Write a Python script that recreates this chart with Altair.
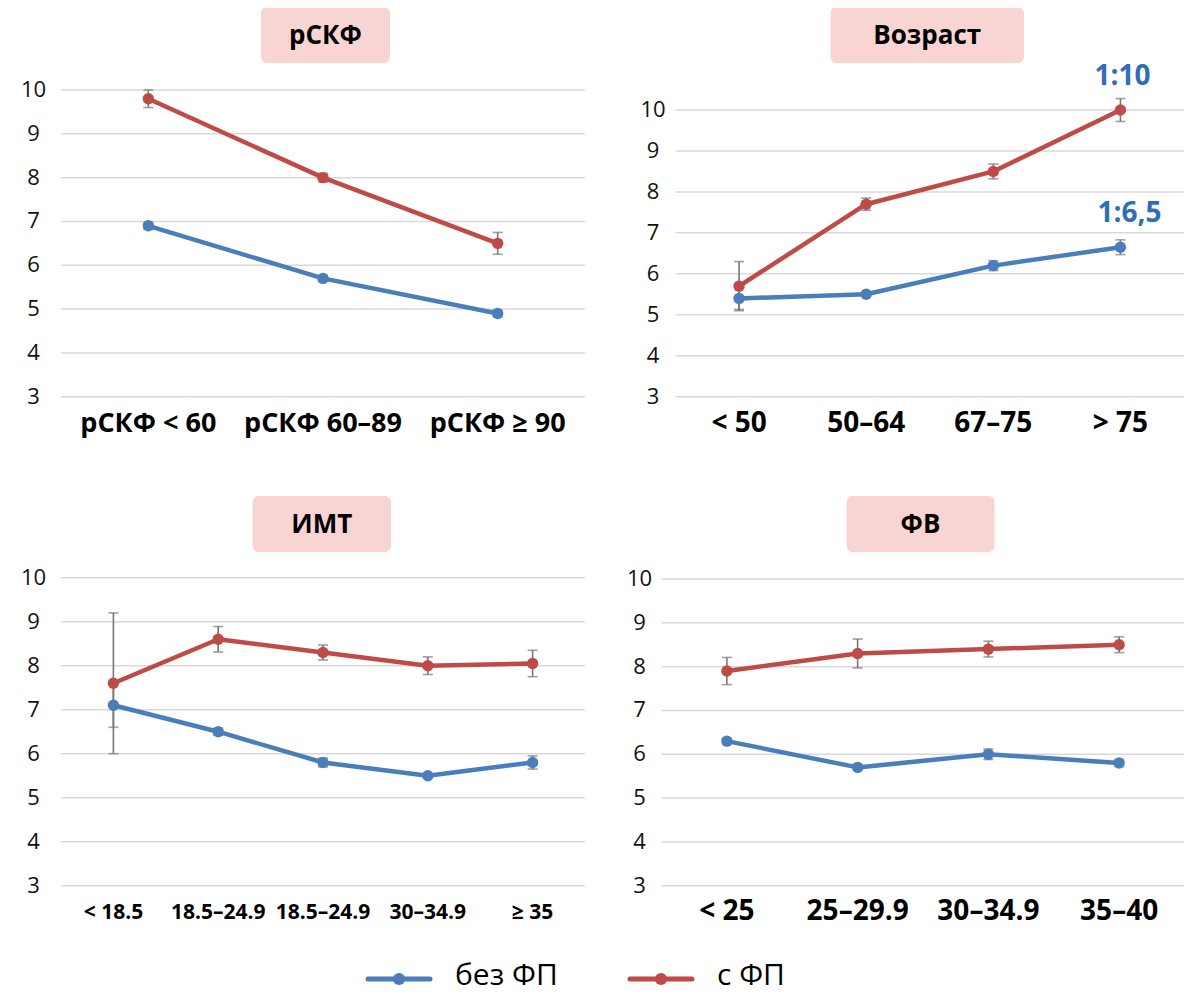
import altair as alt
import pandas as pd

# ---------------- data ----------------
series_names = ["без ФП", "с ФП"]
y_ticks = [3, 4, 5, 6, 7, 8, 9, 10]

egfr_title = "рСКФ"
egfr_cats = ["рСКФ < 60", "рСКФ 60–89", "рСКФ ≥ 90"]
egfr_blue = [6.9, 5.7, 4.9]
egfr_blue_err = [0.08, 0.07, 0.08]
egfr_red = [9.8, 8.0, 6.5]
egfr_red_err = [0.2, 0.1, 0.25]

age_title = "Возраст"
age_cats = ["< 50", "50–64", "67–75", "> 75"]
age_blue = [5.4, 5.5, 6.2, 6.65]
age_blue_err = [0.27, 0.05, 0.12, 0.18]
age_red = [5.7, 7.7, 8.5, 10.0]
age_red_err = [0.6, 0.15, 0.18, 0.28]
age_notes = ["1:10", "1:6,5"]

bmi_title = "ИМТ"
bmi_cats = ["< 18.5", "18.5–24.9", "18.5–24.9", "30–34.9", "≥ 35"]
bmi_blue = [7.1, 6.5, 5.8, 5.5, 5.8]
bmi_blue_err = [0.5, 0.08, 0.1, 0.05, 0.15]
bmi_red = [7.6, 8.6, 8.3, 8.0, 8.05]
bmi_red_err = [1.6, 0.29, 0.17, 0.2, 0.3]

ef_title = "ФВ"
ef_cats = ["< 25", "25–29.9", "30–34.9", "35–40"]
ef_blue = [6.3, 5.7, 6.0, 5.8]
ef_blue_err = [0.06, 0.05, 0.12, 0.08]
ef_red = [7.9, 8.3, 8.4, 8.5]
ef_red_err = [0.31, 0.33, 0.18, 0.18]

# ---------------- style ----------------
BLUE = "#4A7EBB"
RED = "#BE4B48"
GRID = "#D9D9D9"
ERR = "#777777"
PINK = "#F8D5D3"
NOTE = "#2F6EB5"
FONT = "Open Sans"

color = alt.Color("series:N",
                  scale=alt.Scale(domain=series_names, range=[BLUE, RED]),
                  legend=None)


def panel(title, cats, blue, blue_err, red, red_err, lay, notes=None):
    rows = []
    for s, vals, errs in ((series_names[0], blue, blue_err),
                          (series_names[1], red, red_err)):
        for i, (v, e) in enumerate(zip(vals, errs)):
            rows.append(dict(i=i, series=s, v=v, lo=v - e, hi=v + e))
    df = pd.DataFrame(rows)
    n = len(cats)
    xs = alt.Scale(type="point", domain=list(range(n)), range=lay["xr"], padding=0.5)
    ys = alt.Scale(domain=[3, 10], range=lay["yr"], nice=False, zero=False)
    X = alt.X("i:O", scale=xs, axis=None)
    Y = alt.Y("v:Q", scale=ys, axis=None)

    ticks_df = pd.DataFrame({"v": y_ticks})
    grid = alt.Chart(ticks_df).mark_rule(color=GRID, strokeWidth=1.5).encode(
        y=Y, x=alt.value(lay["xr"][0]), x2=alt.value(lay["xr"][1]))
    ylab = alt.Chart(ticks_df).mark_text(
        font=FONT, fontSize=22, align="center", baseline="middle", color="#111"
    ).encode(y=Y, x=alt.value(lay["ylab_x"]), text="v:Q")

    cat_df = pd.DataFrame({"i": list(range(n)), "label": cats})
    xlab = alt.Chart(cat_df).mark_text(
        font=FONT, fontSize=lay["xfs"], fontWeight="bold", align="center",
        baseline="middle", color="#000"
    ).encode(x=X, y=alt.value(lay["xlab_y"]), text="label:N")

    base = alt.Chart(df)
    err = base.mark_rule(color=ERR, strokeWidth=1.6).encode(
        x=X, y=alt.Y("lo:Q", scale=ys, axis=None), y2="hi:Q")
    cap_lo = base.mark_tick(color=ERR, size=10, thickness=1.6).encode(
        x=X, y=alt.Y("lo:Q", scale=ys, axis=None))
    cap_hi = base.mark_tick(color=ERR, size=10, thickness=1.6).encode(
        x=X, y=alt.Y("hi:Q", scale=ys, axis=None))
    line = base.mark_line(strokeWidth=4.5, strokeJoin="round", strokeCap="round").encode(
        x=X, y=Y, color=color, detail="series:N")
    pts = base.mark_circle(size=130, opacity=1).encode(x=X, y=Y, color=color)

    b = lay["box"]
    tdf = pd.DataFrame({"t": [title]})
    box = alt.Chart(tdf).mark_rect(color=PINK, cornerRadius=6).encode(
        x=alt.value(b[0]), x2=alt.value(b[1]), y=alt.value(b[2]), y2=alt.value(b[3]))
    ttl = alt.Chart(tdf).mark_text(
        font=FONT, fontSize=26, fontWeight="bold", align="center",
        baseline="middle", color="#000"
    ).encode(x=alt.value((b[0] + b[1]) / 2), y=alt.value((b[2] + b[3]) / 2 + 1), text="t:N")

    layers = [grid, ylab, xlab, line, err, cap_lo, cap_hi, pts, box, ttl]

    if notes:
        last = n - 1
        ndf1 = pd.DataFrame({"i": [last], "v": [red[last]], "t": [notes[0]]})
        ndf2 = pd.DataFrame({"i": [last], "v": [blue[last]], "t": [notes[1]]})
        for nd, dx in ((ndf1, 2), (ndf2, 9)):
            layers.append(alt.Chart(nd).mark_text(
                font=FONT, fontSize=28, fontWeight="bold", color=NOTE,
                align="center", baseline="middle", dx=dx, dy=-33
            ).encode(x=X, y=Y, text="t:N"))
    return alt.layer(*layers)


lay1 = dict(xr=[53, 577], yr=[388.7, 82], ylab_x=25.5, xlab_y=416, xfs=27,
            box=[253, 382, -1, 55])
lay2 = dict(xr=[667.5, 1176], yr=[388.7, 102], ylab_x=645, xlab_y=416, xfs=28,
            box=[822.5, 1016, -1, 55])
lay3 = dict(xr=[53, 577], yr=[877.7, 569.7], ylab_x=25.5, xlab_y=905, xfs=21,
            box=[244.5, 383, 488, 544])
lay4 = dict(xr=[653.5, 1176.5], yr=[877.7, 571], ylab_x=631.5, xlab_y=904, xfs=28,
            box=[838.5, 986.5, 488, 544])

p1 = panel(egfr_title, egfr_cats, egfr_blue, egfr_blue_err, egfr_red, egfr_red_err, lay1)
p2 = panel(age_title, age_cats, age_blue, age_blue_err, age_red, age_red_err, lay2, age_notes)
p3 = panel(bmi_title, bmi_cats, bmi_blue, bmi_blue_err, bmi_red, bmi_red_err, lay3)
p4 = panel(ef_title, ef_cats, ef_blue, ef_blue_err, ef_red, ef_red_err, lay4)

# legend
leg_df = pd.DataFrame({"series": series_names})
LX = alt.X("series:N", axis=None,
           scale=alt.Scale(type="point", domain=series_names, range=[391, 653], padding=0))
leg_line = alt.Chart(leg_df).mark_rule(strokeWidth=5, strokeCap="round", xOffset=-31, x2Offset=31).encode(
    x=LX, x2="series:N", y=alt.value(971), color=color)
leg_pt = alt.Chart(leg_df).mark_circle(size=150, opacity=1).encode(
    x=LX, y=alt.value(971), color=color)
leg_txt = alt.Chart(leg_df).mark_text(
    font=FONT, fontSize=30, align="left", baseline="alphabetic", dx=56, color="#000"
).encode(x=LX, y=alt.value(977), text="series:N")
legend = alt.layer(leg_line, leg_pt, leg_txt)

chart = alt.layer(p1, p2, p3, p4, legend).resolve_scale(
    x="independent", y="independent"
).properties(
    width=1176, height=987, padding=0, autosize="none"
).configure_view(stroke=None)

chart.save("out.html", embed_options={"renderer": "svg", "actions": False})
